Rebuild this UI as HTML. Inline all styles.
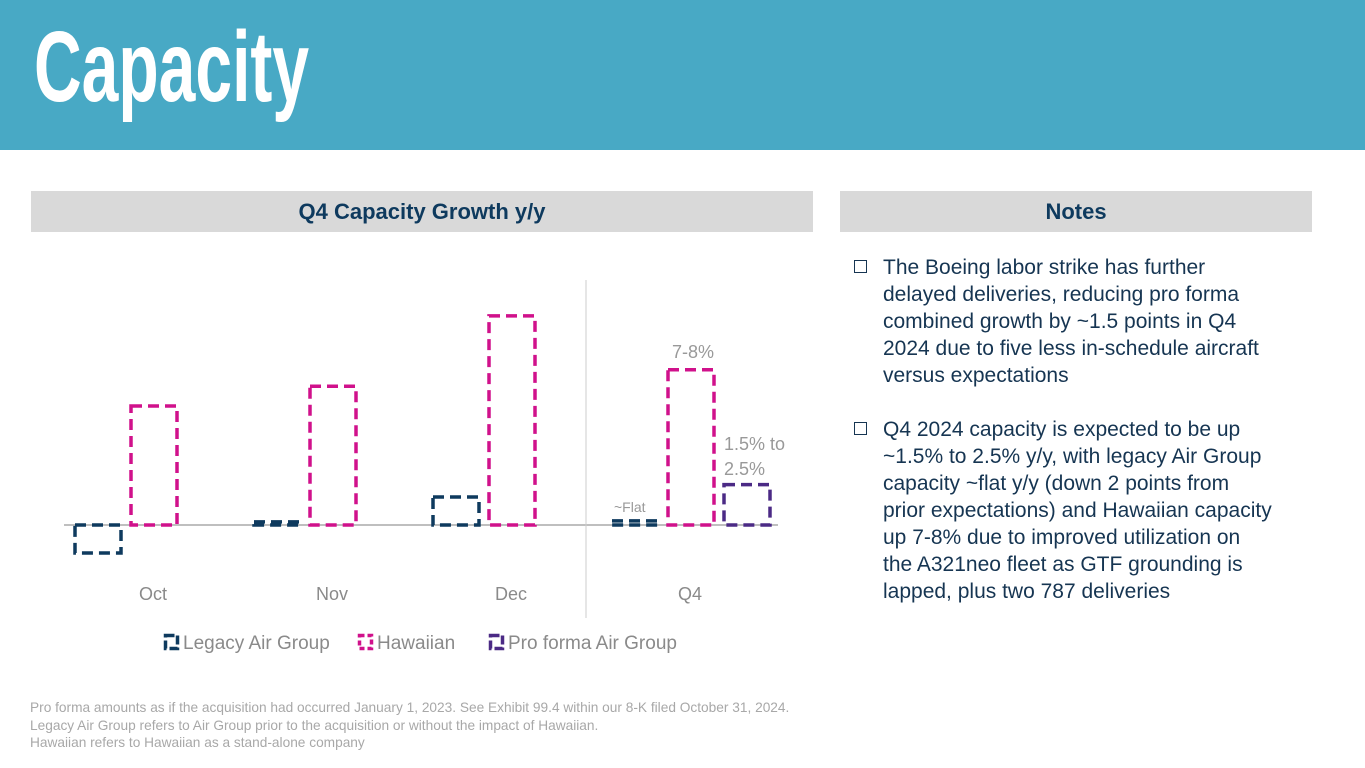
<!DOCTYPE html>
<html><head><meta charset="utf-8"><style>
body{margin:0;width:1365px;height:768px;overflow:hidden;background:#fff;font-family:"Liberation Sans",sans-serif;position:relative}
#hdr{position:absolute;left:0;top:0;width:1365px;height:150px;background:#48a9c5}
#title{position:absolute;left:34px;top:10px;color:#fff;font-family:"Liberation Sans Narrow","Liberation Sans",sans-serif;font-weight:bold;font-size:100px;line-height:115px;transform:scaleX(0.66);transform-origin:0 0;letter-spacing:0px}
.bar{position:absolute;background:#d9d9d9;height:41px;top:191px;color:#0e3a5e;font-weight:bold;font-size:22px;line-height:41px;text-align:center}
#notes{position:absolute;left:852px;top:254px;width:460px;color:#163552;font-size:21px;line-height:27px}
.n{position:relative;padding-left:31px;margin-bottom:27px}
.n:before{content:"";position:absolute;left:2px;top:6px;width:11px;height:11px;border:1.5px solid #163552}
#foot{position:absolute;left:30px;top:699px;color:#a8a8a8;font-size:13.7px;line-height:17.5px}
</style></head><body>
<div id="hdr"></div>
<div id="title">Capacity</div>
<div class="bar" style="left:31px;width:782px">Q4 Capacity Growth y/y</div>
<div class="bar" style="left:840px;width:472px">Notes</div>
<svg id="chart" width="1365" height="768" style="position:absolute;left:0;top:0"></svg>
<div id="notes">
<div class="n">The Boeing labor strike has further<br>delayed deliveries, reducing pro forma<br>combined growth by ~1.5 points in Q4<br>2024 due to five less in-schedule aircraft<br>versus expectations</div>
<div class="n">Q4 2024 capacity is expected to be up<br>~1.5% to 2.5% y/y, with legacy Air Group<br>capacity ~flat y/y (down 2 points from<br>prior expectations) and Hawaiian capacity<br>up 7-8% due to improved utilization on<br>the A321neo fleet as GTF grounding is<br>lapped, plus two 787 deliveries</div>
</div>
<div id="foot">Pro forma amounts as if the acquisition had occurred January 1, 2023. See Exhibit 99.4 within our 8-K filed October 31, 2024.<br>Legacy Air Group refers to Air Group prior to the acquisition or without the impact of Hawaiian.<br>Hawaiian refers to Hawaiian as a stand-alone company</div>
<script>
const categories=["Oct","Nov","Dec","Q4"];
const legacy=[-1.35,0.15,1.35,0.2];
const hawaiian=[5.75,6.7,10.1,7.5];
const proforma=[null,null,null,1.95];
const seriesNames=["Legacy Air Group","Hawaiian","Pro forma Air Group"];
const colors=["#0e3a5e","#d0118b","#4b2a85"];
const NS="http://www.w3.org/2000/svg";
const svg=document.getElementById('chart');
const base=525,pxPer=20.7,c0=153,step=179,bw=46;
const y=v=>base-v*pxPer;
const xc=i=>c0+i*step;
function mk(t,a){const e=document.createElementNS(NS,t);for(const k in a)e.setAttribute(k,a[k]);svg.appendChild(e);return e;}
let ax=mk('line',{x1:64,x2:778,y1:base,y2:base,stroke:'#aaa','stroke-width':1.5});

let dv=mk('line',{x1:586,x2:586,y1:280,y2:618,stroke:'#ccc','stroke-width':1});

[legacy,hawaiian,proforma].forEach((s,si)=>{s.forEach((v,i)=>{if(v==null)return;
const x=xc(i)-78+si*56;const t=Math.min(y(v),base),h=Math.max(Math.abs(y(v)-base),2);
const r=mk('rect',{x:x,y:t,width:bw,height:h,fill:'none',stroke:colors[si],'stroke-width':3.5,'stroke-dasharray':'11 6'});

});});
categories.forEach((c,i)=>{const t=mk('text',{x:xc(i),y:600,'text-anchor':'middle',fill:'#8a8a8a','font-size':18,'font-family':'Liberation Sans'});t.textContent=c;
});
function lab(txt,x,yy,sz,nm){const t=mk('text',{x:x,y:yy,fill:'#999','font-size':sz,'font-family':'Liberation Sans'});t.textContent=txt;}
lab('~Flat',614,512,14,'label-flat');lab('7-8%',672,358,18,'label-hawaiian-q4');
lab('1.5% to',724,450,18,'label-proforma-1');lab('2.5%',724,475,18,'label-proforma-2');
const lx=[164,358,489];
seriesNames.forEach((n,i)=>{const r=mk('rect',{x:lx[i]+1.5,y:635.5,width:12,height:13,fill:'none',stroke:colors[i],'stroke-width':3.5,'stroke-dasharray':i==1?'5 3':'9 3'});

const t=mk('text',{x:lx[i]+19,y:649,fill:'#8a8a8a','font-size':19,'font-family':'Liberation Sans'});t.textContent=n;
});
</script>
</body></html>
